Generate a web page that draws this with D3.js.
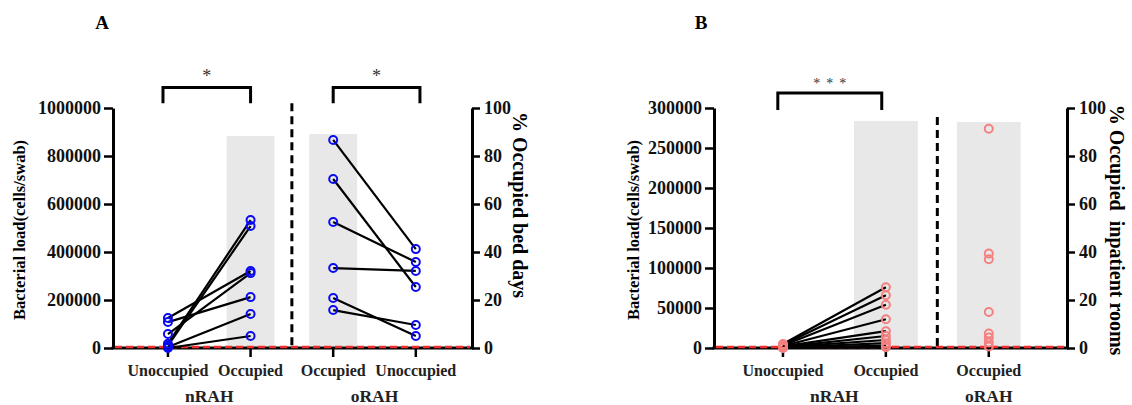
<html lang="en">
<head>
<meta charset="utf-8">
<title>Bacterial load vs occupancy</title>
<style>
  body { margin: 0; padding: 0; background: white; }
  svg { background: white; display: block; }
  text { font-family: "Liberation Serif", "Times New Roman", serif; }
</style>
</head>
<body>
<div id="chart"></div>
<script src="https://d3js.org/d3.v7.min.js"></script>
<script>
// ---- data ----
var catsA = ["Unoccupied", "Occupied", "Occupied", "Unoccupied"];
var groupsA = ["nRAH", "oRAH"];
var aNrahUnocc = [125000, 108000, 58000, 18000, 10000, 4000, 0];
var aNrahOcc   = [321000, 212000, 312000, 533000, 508000, 142000, 50000];
var aOrahOcc   = [867000, 704000, 525000, 333000, 208000, 158000];
var aOrahUnocc = [412000, 254000, 358000, 321000, 50000, 96000];
var aPctOccupied = [88.3, 89.2];          // grey bars, % occupied bed days
var aLeftTicks = [0, 200000, 400000, 600000, 800000, 1000000];

var catsB = ["Unoccupied", "Occupied", "Occupied"];
var groupsB = ["nRAH", "oRAH"];
var bNrahUnocc = [5000, 4000, 3000, 2500, 2000, 1500, 1000, 600, 300, 0];
var bNrahOcc   = [76000, 66000, 54000, 36000, 21000, 15000, 10000, 6000, 3000, 1000];
var bOrahOcc   = [274000, 118000, 111000, 45000, 18000, 13000, 7000, 2000];
var bPctOccupied = [94.6, 94.2];          // grey bars, % occupied inpatient rooms
var bLeftTicks = [0, 50000, 100000, 150000, 200000, 250000, 300000];

var pctTicks = [0, 20, 40, 60, 80, 100];

var width = 1132, height = 405;
var svg = d3.select("#chart").append("svg")
    .attr("width", width)
    .attr("height", height);

var panels = [
  {
    letter: "A", letterX: 102,
    x0: 113, x1: 472, top: 108, bottom: 348,
    domain: [-0.665, 3.68],
    leftMax: 1000000, leftTicks: aLeftTicks,
    leftLabel: "Bacterial load(cells/swab)", leftLabelX: 19,
    rightLabel: "% Occupied bed days", rightLabelX: 520, rightLabelY: 205,
    cats: catsA,
    groups: [{ name: groupsA[0], at: 0.5 }, { name: groupsA[1], at: 2.5 }],
    bars: [{ at: 1, pct: aPctOccupied[0] }, { at: 2, pct: aPctOccupied[1] }],
    barW: 0.58,
    pairs: [
      { from: 0, to: 1, a: aNrahUnocc, b: aNrahOcc },
      { from: 2, to: 3, a: aOrahOcc, b: aOrahUnocc }
    ],
    singles: [],
    color: "#0a0af0",
    divider: { at: 1.5, top: 102 },
    brackets: [
      { from: -0.06, to: 1, top: 108.5, foot: 102, mark: "*" },
      { from: 2, to: 3.05, top: 108.5, foot: 102, mark: "*" }
    ]
  },
  {
    letter: "B", letterX: 701,
    x0: 714, x1: 1067, top: 108, bottom: 348,
    domain: [-0.67, 2.76],
    leftMax: 300000, leftTicks: bLeftTicks,
    leftLabel: "Bacterial load(cells/swab)", leftLabelX: 633,
    rightLabel: "% Occupied  inpatient rooms", rightLabelX: 1117, rightLabelY: 230,
    cats: catsB,
    groups: [{ name: groupsB[0], at: 0.5 }, { name: groupsB[1], at: 2 }],
    bars: [{ at: 1, pct: bPctOccupied[0] }, { at: 2, pct: bPctOccupied[1] }],
    barW: 0.62,
    pairs: [
      { from: 0, to: 1, a: bNrahUnocc, b: bNrahOcc }
    ],
    singles: [{ at: 2, vals: bOrahOcc }],
    color: "#f58080",
    divider: { at: 1.5, top: 96.3 },
    brackets: [
      { from: -0.05, to: 0.96, top: 106.3, foot: 99.2, mark: "***" }
    ]
  }
];

panels.forEach(drawPanel);

function drawPanel(p) {
  var g = svg.append("g");

  var x = d3.scaleLinear().domain(p.domain).range([p.x0, p.x1]);
  var yL = d3.scaleLinear().domain([0, p.leftMax]).range([p.bottom, p.top]);
  var yR = d3.scaleLinear().domain([0, 100]).range([p.bottom, p.top]);

  // grey bars on the % occupancy axis
  g.selectAll("rect.bar")
    .data(p.bars)
    .enter().append("rect")
    .attr("class", "bar")
    .attr("x", function(d){ return x(d.at - p.barW / 2); })
    .attr("width", x(p.barW) - x(0))
    .attr("y", function(d){ return yR(d.pct); })
    .attr("height", function(d){ return yR(0) - yR(d.pct) - 2; })
    .attr("fill", "#e8e8e8");

  // dashed divider between hospitals
  g.append("line")
    .attr("x1", x(p.divider.at)).attr("x2", x(p.divider.at))
    .attr("y1", yR(p.divider.top)).attr("y2", yR(0))
    .attr("stroke", "#000")
    .attr("stroke-width", 3)
    .attr("stroke-dasharray", "8,5");

  // left axis
  var axL = g.append("g")
    .attr("transform", "translate(" + p.x0 + ",0)")
    .call(d3.axisLeft(yL).tickValues(p.leftTicks).tickFormat(d3.format("d"))
      .tickSize(9).tickSizeOuter(0).tickPadding(3));
  styleAxis(axL);

  // right axis
  var axR = g.append("g")
    .attr("transform", "translate(" + p.x1 + ",0)")
    .call(d3.axisRight(yR).tickValues(pctTicks).tickFormat(d3.format("d"))
      .tickSize(8).tickSizeOuter(0).tickPadding(4));
  styleAxis(axR);

  // bottom axis line + category ticks
  g.append("line")
    .attr("x1", p.x0 - 1.5).attr("x2", p.x1 + 1.5)
    .attr("y1", p.bottom).attr("y2", p.bottom)
    .attr("stroke", "#000").attr("stroke-width", 3);

  g.selectAll("line.ctick")
    .data(p.cats)
    .enter().append("line")
    .attr("class", "ctick")
    .attr("x1", function(d, i){ return x(i); })
    .attr("x2", function(d, i){ return x(i); })
    .attr("y1", p.bottom).attr("y2", p.bottom + 9)
    .attr("stroke", "#000").attr("stroke-width", 2.5);

  // red dashed zero line
  g.append("line")
    .attr("x1", p.x0 + 2).attr("x2", p.x1 - 2)
    .attr("y1", yL(0) - 1).attr("y2", yL(0) - 1)
    .attr("stroke", "#f02c2c")
    .attr("stroke-width", 2.5)
    .attr("stroke-dasharray", "7,4");

  // category labels
  g.selectAll("text.cat")
    .data(p.cats)
    .enter().append("text")
    .attr("class", "cat")
    .attr("x", function(d, i){ return x(i); })
    .attr("y", 376)
    .attr("text-anchor", "middle")
    .attr("font-weight", "bold")
    .attr("font-size", 16)
    .attr("fill", "#222")
    .text(function(d){ return d; });

  g.selectAll("text.grp")
    .data(p.groups)
    .enter().append("text")
    .attr("class", "grp")
    .attr("x", function(d){ return x(d.at); })
    .attr("y", 402)
    .attr("text-anchor", "middle")
    .attr("font-weight", "bold")
    .attr("font-size", 17.5)
    .attr("fill", "#222")
    .text(function(d){ return d.name; });

  // paired lines
  p.pairs.forEach(function(pr) {
    g.selectAll(null)
      .data(pr.a)
      .enter().append("line")
      .attr("x1", x(pr.from)).attr("x2", x(pr.to))
      .attr("y1", function(d){ return yL(d); })
      .attr("y2", function(d, i){ return yL(pr.b[i]); })
      .attr("stroke", "#000").attr("stroke-width", 2.2);
  });

  // hollow circles
  var pts = [];
  p.pairs.forEach(function(pr) {
    pr.a.forEach(function(v){ pts.push({ at: pr.from, v: v }); });
    pr.b.forEach(function(v){ pts.push({ at: pr.to, v: v }); });
  });
  p.singles.forEach(function(s) {
    s.vals.forEach(function(v){ pts.push({ at: s.at, v: v }); });
  });
  g.selectAll("circle.pt")
    .data(pts)
    .enter().append("circle")
    .attr("class", "pt")
    .attr("cx", function(d){ return x(d.at); })
    .attr("cy", function(d){ return yL(d.v); })
    .attr("r", 4)
    .attr("fill", "none")
    .attr("stroke", p.color)
    .attr("stroke-width", 2);

  // significance brackets
  p.brackets.forEach(function(b) {
    var xa = x(b.from), xb = x(b.to), yt = yR(b.top), yf = yR(b.foot);
    var multi = b.mark.length > 1;
    g.append("path")
      .attr("d", "M" + xa + "," + yf + "V" + yt + "H" + xb + "V" + yf)
      .attr("fill", "none")
      .attr("stroke", "#000")
      .attr("stroke-width", 3);
    var star = g.append("text")
      .attr("x", (xa + xb) / 2 + (multi ? 3 : 0))
      .attr("y", yt - (multi ? 5 : 6))
      .attr("text-anchor", "middle")
      .attr("font-size", multi ? 14 : 18)
      .attr("fill", "#333")
      .text(b.mark);
    if (multi) star.attr("letter-spacing", 6);
  });

  // axis titles
  g.append("text")
    .attr("transform", "translate(" + p.leftLabelX + "," + ((p.top + p.bottom) / 2 + 2) + ") rotate(-90)")
    .attr("text-anchor", "middle")
    .attr("dominant-baseline", "central")
    .attr("font-weight", "bold")
    .attr("font-size", 16.5)
    .text(p.leftLabel);

  g.append("text")
    .attr("transform", "translate(" + p.rightLabelX + "," + p.rightLabelY + ") rotate(90)")
    .attr("text-anchor", "middle")
    .attr("dominant-baseline", "central")
    .attr("font-weight", "bold")
    .attr("font-size", 20)
    .style("white-space", "pre")
    .text(p.rightLabel);

  // panel letter
  g.append("text")
    .attr("x", p.letterX).attr("y", 29)
    .attr("text-anchor", "middle")
    .attr("font-weight", "bold")
    .attr("font-size", 19)
    .text(p.letter);
}

function styleAxis(ax) {
  ax.attr("font-family", "'Liberation Serif', 'Times New Roman', serif")
    .attr("font-size", 18)
    .attr("font-weight", "bold");
  ax.select(".domain").attr("stroke-width", 3);
  ax.selectAll(".tick line").attr("stroke-width", 2.5);
  ax.selectAll(".tick text").attr("fill", "#111");
}
</script>
</body>
</html>
